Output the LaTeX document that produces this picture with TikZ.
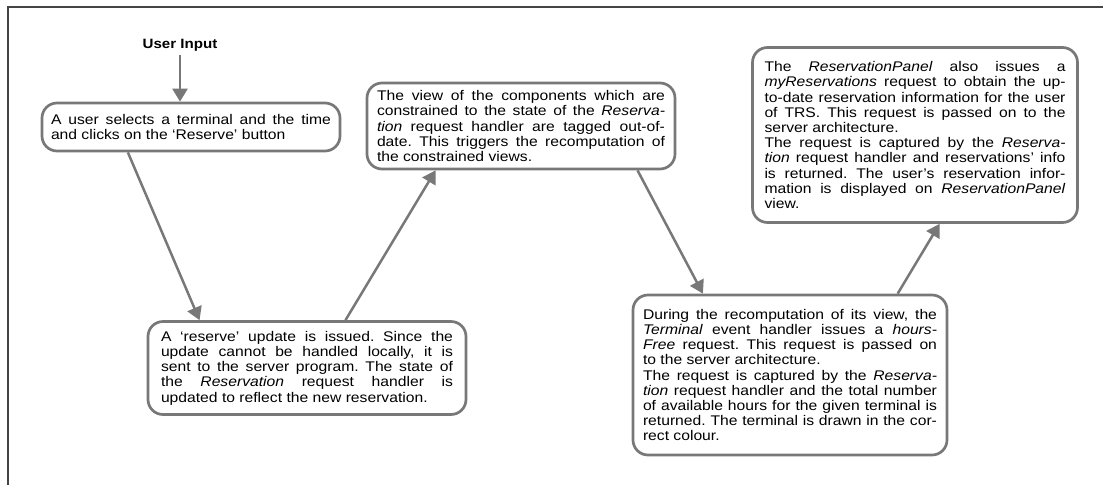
\documentclass[tikz,border=0pt]{standalone}
\usepackage{fontspec}
\setmainfont{Liberation Sans}
\newfontfamily\bodyfont[FakeStretch=1.12]{Liberation Sans}
\usetikzlibrary{arrows.meta,calc}

% one justified line, and one ragged (last) line of a paragraph;
% the font's own interword glue is restored so that the line can stretch
\newcommand\jl[1]{{\spaceskip=0pt\xspaceskip=0pt\frenchspacing\hbox to\linewidth{#1}}\par}
\newcommand\rl[1]{{\spaceskip=0pt\xspaceskip=0pt\frenchspacing\hbox to\linewidth{#1\hfil}}\par}

\definecolor{edgegray}{HTML}{787878}
\definecolor{framegray}{HTML}{454545}

\tikzset{
  x=1pt, y=-1pt,
  stepbox/.style={draw=edgegray, line width=2.7pt, rounded corners=15pt,
    fill=white, align=left, inner ysep=0pt,
    font=\bodyfont\fontsize{14}{15.2}\selectfont},
  flow/.style={draw=edgegray, line width=2.5pt,
    -{Triangle[length=13pt,width=15pt]}},
}

\begin{document}
\begin{tikzpicture}
\useasboundingbox (0,0) rectangle (1103,485);

% outer frame (open to the right and at the bottom)
\draw[framegray, line width=2pt] (8,485) -- (8,7) -- (1103,7);

\node[font=\bodyfont\bfseries\fontsize{13.5}{15}\selectfont] (ui) at (180,45) {User Input};

\node[stepbox, text width=280pt, inner xsep=9pt, minimum height=48pt] (n1) at (191,127) {%
\jl{A user selects a terminal and the time}
\rl{and clicks on the ‘Reserve’ button}};

\node[stepbox, text width=288pt, inner xsep=10pt, minimum height=86pt] (n3) at (521,126) {%
\jl{The view of the components which are}
\jl{constrained to the state of the \textit{Reserva-}}
\jl{\textit{tion} request handler are tagged out-of-}
\jl{date. This triggers the recomputation of}
\rl{the constrained views.}};

\node[stepbox, text width=292pt, inner xsep=13pt, minimum height=93pt] (n2) at (307,368) {%
\jl{A ‘reserve’ update is issued. Since the}
\jl{update cannot be handled locally, it is}
\jl{sent to the server program. The state of}
\jl{the \textit{Reservation} request handler is}
\rl{updated to reflect the new reservation.}};

\node[stepbox, text width=294pt, inner xsep=10pt, minimum height=160pt] (n4) at (790,375) {%
\jl{During the recomputation of its view, the}
\jl{\textit{Terminal} event handler issues a \textit{hours-}}
\jl{\textit{Free} request. This request is passed on}
\rl{to the server architecture.}
\jl{The request is captured by the \textit{Reserva-}}
\jl{\textit{tion} request handler and the total number}
\jl{of available hours for the given terminal is}
\jl{returned. The terminal is drawn in the cor-}
\rl{rect colour.}};

\node[stepbox, text width=301pt, inner xsep=12pt, minimum height=175pt] (n5) at (915,135) {%
\jl{The \textit{ReservationPanel} also issues a}
\jl{\textit{myReservations} request to obtain the up-}
\jl{to-date reservation information for the user}
\jl{of TRS. This request is passed on to the}
\rl{server architecture.}
\jl{The request is captured by the \textit{Reserva-}}
\jl{\textit{tion} request handler and reservations’ info}
\jl{is returned. The user’s reservation infor-}
\jl{mation is displayed on \textit{ReservationPanel}}
\rl{view.}};

% flow of the reservation
\draw[flow] (ui.south) -- (ui.south |- n1.north);
\draw[flow] ($(n1.south west)!0.29!(n1.south east)$) -- ($(n2.north west)!0.165!(n2.north east)$);
\draw[flow] ($(n2.north west)!0.62!(n2.north east)$) -- ($(n3.south west)!0.225!(n3.south east)$);
\draw[flow] ($(n3.south west)!0.875!(n3.south east)$) -- ($(n4.north west)!0.225!(n4.north east)$);
\draw[flow] ($(n4.north west)!0.84!(n4.north east)$) -- ($(n5.south west)!0.575!(n5.south east)$);
\end{tikzpicture}
\end{document}
